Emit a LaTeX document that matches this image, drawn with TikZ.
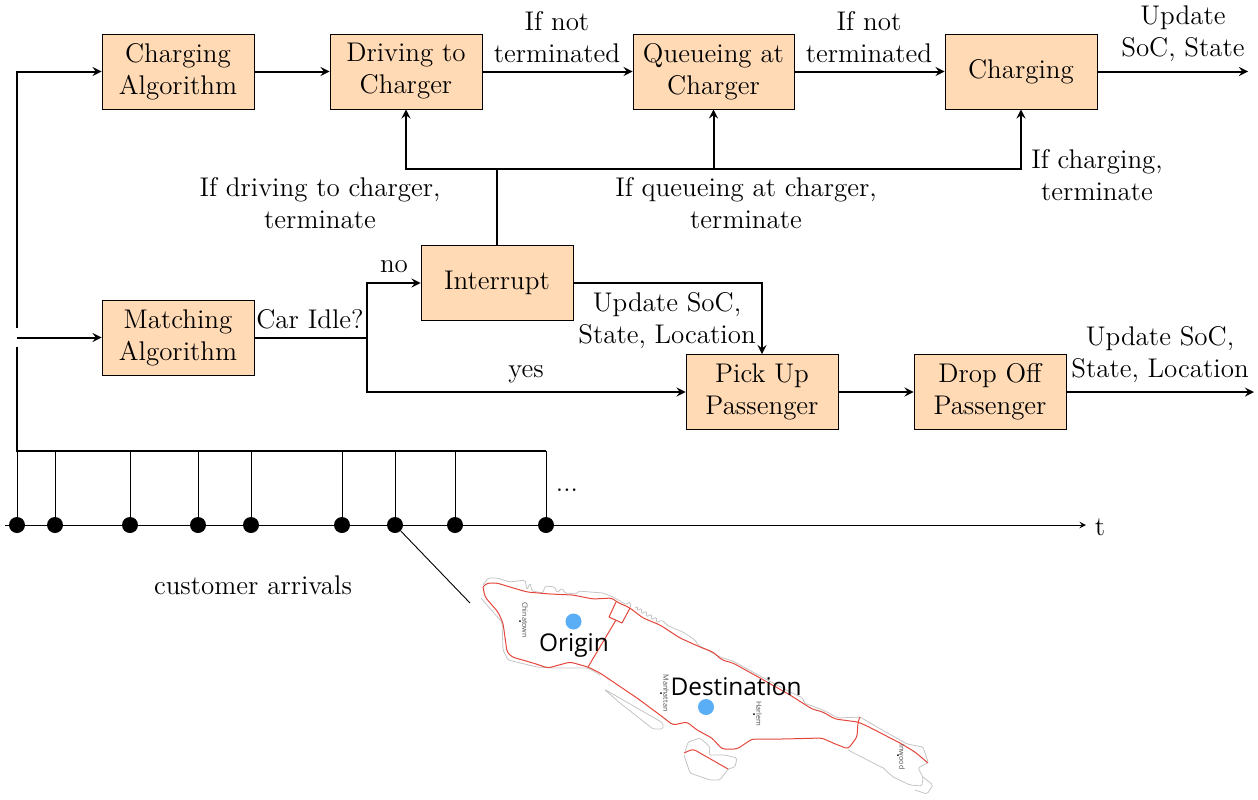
\documentclass[tikz,border=0pt]{standalone}
\usepackage{fontspec}
\newfontfamily\mapfont{Open Sans}
\definecolor{boxfill}{HTML}{FFDAB5}
\definecolor{mapred}{HTML}{E4463C}
\definecolor{mapgrey}{HTML}{C4C4C4}
\definecolor{spotblue}{HTML}{5AAEF5}
\tikzset{
  block/.style={draw=black,fill=boxfill,minimum width=76pt,minimum height=37.5pt,inner sep=0pt,align=center,font=\fontsize{13.5}{16}\selectfont,execute at begin node=\vspace*{2.5pt}},
  lbl/.style={inner sep=0pt,align=center,font=\fontsize{13.5}{16}\selectfont},
  flow/.style={draw=black,line width=1pt,->,>=stealth},
  wire/.style={draw=black,line width=1pt},
  stem/.style={draw=black,line width=0.45pt},
  arrival/.style={circle,fill=black,inner sep=0pt,minimum size=8pt},
  tiny/.style={inner sep=0pt,rotate=-90,font=\mapfont\fontsize{3.6}{4}\selectfont,text=black!70},
  road/.style={draw=mapred,line width=0.5pt,line join=round,rounded corners=1.5pt},
  shore/.style={draw=mapgrey,line width=0.4pt,line join=round,rounded corners=0.8pt},
  spot/.style={circle,fill=spotblue,inner sep=0pt,minimum size=8pt},
  place/.style={inner sep=0pt,font=\mapfont\fontsize{12.2}{14}\selectfont}
}
\begin{document}
\begin{tikzpicture}[x=0.5pt,y=0.5pt]
\useasboundingbox (0,0) rectangle (1258,-799);
% blocks
\node [block] (chargalg) at (178,-71.5) {Charging\\Algorithm};
\node [block] (driving) at (406,-71.5) {Driving to\\Charger};
\node [block,minimum width=80.5pt] (queueing) at (713.5,-71.5) {Queueing at\\Charger};
\node [block] (charging) at (1021,-71.5) {Charging};
\node [block] (interrupt) at (497,-283) {Interrupt};
\node [block] (matchalg) at (178,-337.5) {Matching\\Algorithm};
\node [block] (pickup) at (762,-392) {Pick Up\\Passenger};
\node [block] (dropoff) at (990,-392) {Drop Off\\Passenger};
% free ends and corners
\coordinate (chargeend) at (1248,-71.5);
\coordinate (dropend) at (1254,-392);
\coordinate (stoprail) at (497,-169);
\coordinate (fork) at (367,-337.5);
\coordinate (timeleft) at (5,-525);
\coordinate (timeright) at (1086,-525);
\coordinate (railleft) at (17,-451);
\coordinate (railright) at (546,-451);
\coordinate (gaplow) at (17,-347);
\coordinate (gaphigh) at (17,-328);
\coordinate (gapmid) at (17,-337.5);
% top row
\draw [flow] (chargalg) -- (driving);
\draw [flow] (driving) -- (queueing);
\draw [flow] (queueing) -- (charging);
\draw [flow] (charging) -- (chargeend);
\draw [flow] (pickup) -- (dropoff);
\draw [flow] (dropoff) -- (dropend);
% interrupt
\draw [wire] (interrupt) -- (stoprail);
\draw [flow] (stoprail) -| (driving);
\draw [flow] (stoprail) -| (queueing);
\draw [flow] (stoprail) -| (charging);
\draw [flow] (interrupt) -| (pickup);
% matching
\draw [wire] (matchalg) -- (fork);
\draw [flow] (fork) |- (interrupt);
\draw [flow] (fork) |- (pickup);
% left feed
\draw [wire] (railright) -- (railleft) -- (gaplow);
\draw [flow] (gaphigh) |- (chargalg);
\draw [flow] (gapmid) -- (matchalg);
% labels
\node [lbl] (notterma) at (557,-37) {If not\\terminated};
\node [lbl] (nottermb) at (869,-37) {If not\\terminated};
\node [lbl] (updatea) at (1183,-34) {Update\\SoC, State};
\node [lbl] (ifcharging) at (1097,-175) {If charging,\\terminate};
\node [lbl] (ifdriving) at (320,-203.5) {If driving to charger,\\terminate};
\node [lbl] (ifqueueing) at (746,-203.5) {If queueing at charger,\\terminate};
\node [lbl] (nolabel) at (394,-267) {no};
\node [lbl] (idle) at (310,-319) {Car Idle?};
\node [lbl] (yeslabel) at (526,-374) {yes};
\node [lbl] (updateb) at (667,-321) {Update SoC,\\State, Location};
\node [lbl] (updatec) at (1160,-355) {Update SoC,\\State, Location};
% time line
\draw [stem,->,>=stealth] (timeleft) -- (timeright);
\node [lbl] (tlabel) at (1100,-527) {t};
\node [lbl] (dots) at (567,-490) {...};
\node [lbl] (arrivals) at (253,-585) {customer arrivals};
\foreach \name/\xx in {a/17,b/55,c/130,d/198,e/251,f/342,g/395,h/455,i/546} {
  \node [arrival] (dot\name) at (\xx,-525) {};
  \coordinate (top\name) at (\xx,-451);
  \draw [stem] (dot\name) -- (top\name);
}
\coordinate (mapcorner) at (470,-603);
\draw [stem] (dotg) -- (mapcorner);
% map, grey shore
\draw [shore] (483,-585) -- (488,-578) -- (497,-578) -- (510,-582) -- (525,-580) -- (527,-590) -- (530,-583) -- (532,-591) -- (543,-593) -- (545,-586) -- (555,-587) -- (557,-593) -- (562,-588) -- (565,-593) -- (577,-594) -- (578,-591) -- (603,-593) -- (613,-597) -- (627,-605) -- (628,-602) -- (631,-603) -- (630,-608);
\draw [shore] (635,-608) -- (638,-606) -- (637,-611) -- (642,-608) -- (641,-614) -- (647,-611) -- (646,-617) -- (652,-614) -- (651,-620) -- (657,-617) -- (656,-623) -- (662,-620) -- (667,-625) -- (673,-628) -- (683,-632) -- (695,-640) -- (698,-645) -- (720,-657) -- (733,-661) -- (760,-676) -- (790,-692) -- (803,-698) -- (804,-703) -- (823,-710) -- (838,-718) -- (860,-717) -- (877,-727) -- (907,-744) -- (923,-747) -- (928,-762);
\draw [shore] (481,-598) -- (493,-612) -- (502,-622) -- (503,-650) -- (508,-660) -- (537,-667) -- (553,-668) -- (588,-668) -- (600,-675);
\draw [shore] (604,-689) -- (663,-723) -- (663,-729) -- (653,-729) -- (620,-703) -- cycle;
\draw [shore] (685,-752) -- (688,-742) -- (700,-738) -- (710,-747) -- (709,-755) -- (725,-755) -- (737,-758) -- (735,-767) -- (728,-769) -- (720,-780) -- (710,-780) -- (690,-773) -- (684,-755);
\draw [shore] (848,-750) -- (883,-768) -- (881,-766) -- (893,-777) -- (910,-785) -- (922,-786) -- (923,-777) -- (918,-768) -- (927,-763);
\draw [shore] (923,-777) -- (933,-785) -- (927,-794) -- (915,-790);
% map, red roads
\draw [road] (483,-587) -- (487,-583) -- (497,-583) -- (510,-587) -- (527,-592) -- (550,-594) -- (573,-595) -- (593,-599) -- (612,-598) -- (617,-602) -- (630,-608) -- (643,-618) -- (660,-625) -- (680,-638) -- (700,-647) -- (713,-652) -- (722,-660) -- (733,-663) -- (760,-678) -- (790,-695) -- (812,-709) -- (823,-712) -- (835,-719) -- (858,-722) -- (867,-726) -- (900,-743) -- (915,-752) -- (928,-763);
\draw [road] (483,-587) -- (485,-597) -- (498,-612) -- (503,-623) -- (507,-652) -- (512,-657) -- (533,-663) -- (548,-668) -- (570,-662) -- (588,-667) -- (600,-673) -- (637,-698) -- (660,-715) -- (673,-725) -- (687,-722) -- (697,-730) -- (712,-738) -- (722,-749) -- (737,-749) -- (752,-739) -- (783,-739) -- (822,-738) -- (833,-743) -- (848,-749) -- (857,-737) -- (858,-722) -- (860,-717);
\draw [road,rounded corners=0pt] (588,-667) -- (616,-620);
\draw [road,rounded corners=0pt] (616,-602) -- (609,-617) -- (622,-623) -- (630,-608);
\draw [road] (684,-753) -- (693,-749) -- (728,-769);
% map, names
\fill [black] (520,-621) circle (1);
\fill [black] (661,-693) circle (1);
\fill [black] (754,-714) circle (1);
\fill [black] (898,-755) circle (1);
\node [tiny] (chinatown) at (525,-620) {Chinatown};
\node [tiny] (manhattan) at (666,-693) {Manhattan};
\node [tiny] (harlem) at (759,-714) {Harlem};
\node [tiny] (inwood) at (902,-757) {Inwood};
\node [spot] (origspot) at (573.5,-621.5) {};
\node [spot] (destspot) at (706,-707) {};
\node [place] (origin) at (574,-645) {Origin};
\node [place] (destination) at (736,-687) {Destination};
\end{tikzpicture}
\end{document}
